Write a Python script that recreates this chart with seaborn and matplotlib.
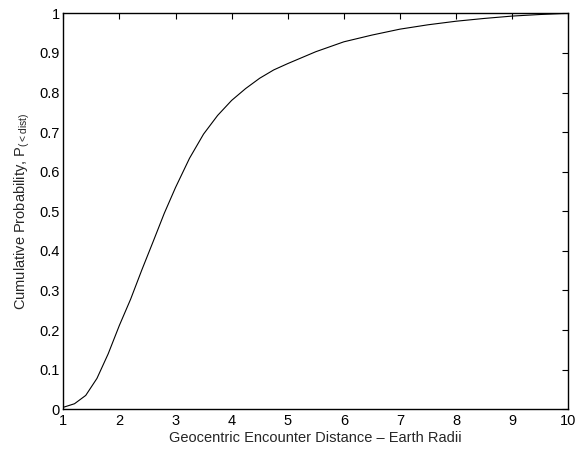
import numpy as np
import pandas as pd
import matplotlib
matplotlib.use('Agg')
import matplotlib.pyplot as plt
import seaborn as sns

# values
dist = [1.0, 1.2, 1.4, 1.6, 1.8, 2.0, 2.2, 2.4, 2.6, 2.8, 3.0, 3.25, 3.5,
        3.75, 4.0, 4.25, 4.5, 4.75, 5.0, 5.5, 6.0, 6.5, 7.0, 7.5, 8.0, 8.5,
        9.0, 9.5, 10.0]
prob = [0.005, 0.014, 0.035, 0.078, 0.140, 0.212, 0.278, 0.352, 0.423,
        0.495, 0.560, 0.634, 0.695, 0.742, 0.780, 0.810, 0.836, 0.857, 0.873,
        0.903, 0.928, 0.945, 0.960, 0.971, 0.980, 0.987, 0.993, 0.997, 1.0]
xticks = list(range(1, 11))
yticks = [0, 0.1, 0.2, 0.3, 0.4, 0.5, 0.6, 0.7, 0.8, 0.9, 1]
ytick_labels = ['0', '0.1', '0.2', '0.3', '0.4', '0.5', '0.6', '0.7', '0.8', '0.9', '1']

df = pd.DataFrame({'dist': dist, 'prob': prob})

sns.set_theme(style='white')
plt.rcParams['font.family'] = ['Liberation Sans', 'DejaVu Sans']
plt.rcParams['mathtext.fontset'] = 'custom'
plt.rcParams['mathtext.rm'] = 'Liberation Sans'
plt.rcParams['mathtext.it'] = 'Liberation Sans'

fig = plt.figure(figsize=(5.79, 4.51), dpi=100)
ax = fig.add_axes([0.1093, 0.0925, 0.8722, 0.878])
sns.lineplot(data=df, x='dist', y='prob', color='black', linewidth=0.8, ax=ax)

ax.set_xlim(1, 10)
ax.set_ylim(0, 1)
ax.set_xticks(xticks)
ax.set_xticklabels([str(t) for t in xticks])
ax.set_yticks(yticks)
ax.set_yticklabels(ytick_labels)
ax.tick_params(direction='in', length=4, width=0.8, top=True, right=True,
               labelsize=10.5, colors='black')
ax.tick_params(axis='x', pad=3.5)
ax.tick_params(axis='y', pad=2.5)
for s in ax.spines.values():
    s.set_visible(True)
    s.set_color('black')
    s.set_linewidth(1.0)

ax.set_xlabel('Geocentric Encounter Distance \u2013 Earth Radii', fontsize=10.5, labelpad=2)
ax.set_ylabel(r'Cumulative Probability, P$_{(<\mathrm{dist})}$', fontsize=10.5, labelpad=5)

fig.savefig('out.png', dpi=100)
